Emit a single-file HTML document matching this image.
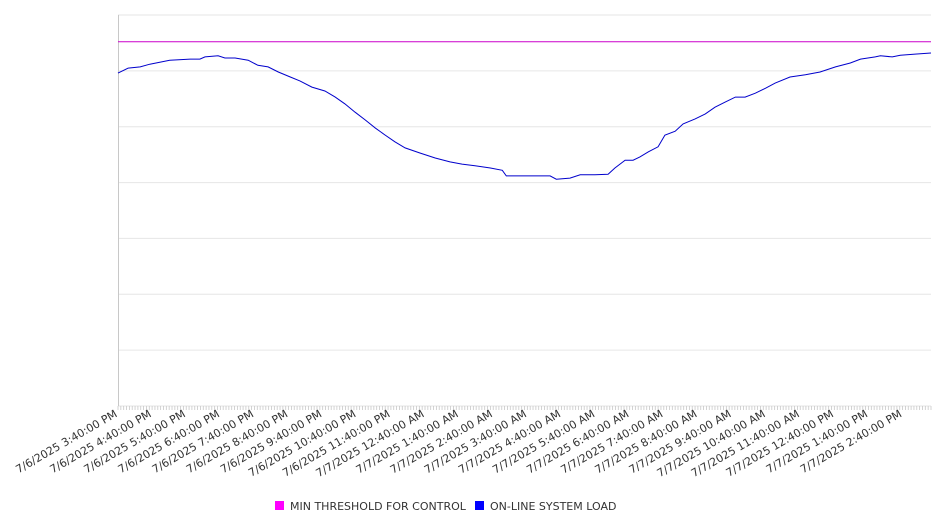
<!DOCTYPE html>
<html><head><meta charset="utf-8"><style>
html,body{margin:0;padding:0;background:#fff;width:946px;height:526px;overflow:hidden}
svg{display:block;font-family:"DejaVu Sans","Liberation Sans",sans-serif}
</style></head><body>
<svg id="chart" width="946" height="526" viewBox="0 0 946 526" xmlns="http://www.w3.org/2000/svg">
<g id="grid"></g>
<g id="xaxis"></g>
<g id="series"></g>
<g id="legend">
  <rect x="275" y="501" width="9" height="9" fill="#ff00ff"/>
  <text x="290" y="510" font-size="11" fill="#333">MIN THRESHOLD FOR CONTROL</text>
  <rect x="475" y="501" width="9" height="9" fill="#0000ff"/>
  <text x="490" y="510" font-size="11" fill="#333">ON-LINE SYSTEM LOAD</text>
</g>
</svg>
<script>
// minutes since 7/6/2025 3:40 PM
const loadMinutes = [0,18,39,56,91,127,144,153,176,188,206,229,246,264,282,303,320,341,364,382,399,417,435,452,470,487,505,531,558,584,605,628,655,676,683,707,743,760,771,795,813,839,862,874,892,906,918,933,950,962,980,994,1015,1033,1050,1068,1086,1103,1121,1139,1156,1182,1209,1235,1262,1288,1306,1332,1341,1362,1376,1402,1430];
const loadValues = [59.6,60.5,60.7,61.2,61.9,62.1,62.1,62.5,62.7,62.3,62.3,61.9,61.0,60.7,59.8,58.9,58.2,57.1,56.4,55.3,54.1,52.6,51.2,49.8,48.5,47.3,46.2,45.3,44.4,43.7,43.3,43.0,42.6,42.2,41.2,41.2,41.2,41.2,40.6,40.8,41.4,41.4,41.5,42.6,44.0,44.0,44.6,45.5,46.4,48.5,49.2,50.5,51.4,52.3,53.5,54.4,55.3,55.3,56.0,56.9,57.8,58.9,59.3,59.8,60.7,61.4,62.1,62.5,62.7,62.5,62.8,63.0,63.2];
const thresholdValue = 65.2;
const yTicks = [0,10,20,30,40,50,60,70];
const xTickLabels = ["7/6/2025 3:40:00 PM","7/6/2025 4:40:00 PM","7/6/2025 5:40:00 PM","7/6/2025 6:40:00 PM","7/6/2025 7:40:00 PM","7/6/2025 8:40:00 PM","7/6/2025 9:40:00 PM","7/6/2025 10:40:00 PM","7/6/2025 11:40:00 PM","7/7/2025 12:40:00 AM","7/7/2025 1:40:00 AM","7/7/2025 2:40:00 AM","7/7/2025 3:40:00 AM","7/7/2025 4:40:00 AM","7/7/2025 5:40:00 AM","7/7/2025 6:40:00 AM","7/7/2025 7:40:00 AM","7/7/2025 8:40:00 AM","7/7/2025 9:40:00 AM","7/7/2025 10:40:00 AM","7/7/2025 11:40:00 AM","7/7/2025 12:40:00 PM","7/7/2025 1:40:00 PM","7/7/2025 2:40:00 PM"];
const xDomainMax = 1430;

const NS="http://www.w3.org/2000/svg";
const L=118,R=931,T=15,B=406;
const xs=m=>L+(m/xDomainMax)*(R-L);
const ys=v=>B-(v/70)*(B-T);
function mk(tag,attrs,parent){const e=document.createElementNS(NS,tag);for(const k in attrs)e.setAttribute(k,attrs[k]);parent.appendChild(e);return e;}
const grid=document.getElementById('grid'),xa=document.getElementById('xaxis'),ser=document.getElementById('series');
yTicks.forEach(v=>{
  const ln=mk('line',{x1:L,x2:R,y1:ys(v),y2:ys(v),stroke:'#e6e6e6','stroke-width':1},grid);
  
  
});
const ax=mk('line',{x1:L+0.5,x2:L+0.5,y1:T,y2:B,stroke:'#c8c8c8','stroke-width':1},xa);


for(let m=0;m<=xDomainMax;m+=5){
  const t=mk('line',{x1:xs(m),x2:xs(m),y1:B,y2:B+4,stroke:'#c8c8c8','stroke-width':0.8},xa);
  
  
}
xTickLabels.forEach((s,i)=>{
  const x=xs(i*60);
  const t=mk('text',{x:x,y:B+10,'font-size':11,fill:'#333','text-anchor':'end',transform:`rotate(-30 ${x} ${B+10})`},xa);
  t.textContent=s;
  
  
});
const th=mk('line',{x1:L,x2:R,y1:ys(thresholdValue),y2:ys(thresholdValue),stroke:'#cc00cc','stroke-width':1},ser);


const pts=loadMinutes.map((m,i)=>xs(m).toFixed(1)+','+ys(loadValues[i]).toFixed(1)).join(' ');
const pl=mk('polyline',{points:pts,fill:'none',stroke:'#0000cc','stroke-width':1},ser);


</script>
</body></html>
